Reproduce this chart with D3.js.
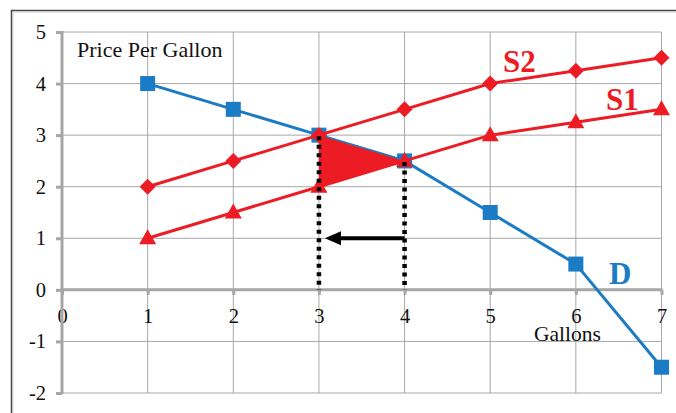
<!DOCTYPE html>
<html><head><meta charset="utf-8">
<script src="https://cdn.jsdelivr.net/npm/d3@7"></script>
<style>body{margin:0;background:#fff}svg{display:block}</style>
</head><body>
<svg id="c" width="676" height="413"></svg>
<script>
const gallons = [1,2,3,4,5,6,7];
const demand = [4,3.5,3,2.5,1.5,0.5,-1.5];
const supply2 = [2,2.5,3,3.5,4,4.25,4.5];
const supply1 = [1,1.5,2,2.5,3,3.25,3.5];
const xTicks = [0,1,2,3,4,5,6,7];
const yTicks = [-2,-1,0,1,2,3,4,5];
const surplusTri = [[3,3],[3,2],[4,2.5]];
const dottedX = [[3,3],[4,2.5]];
const arrowFromTo = [[4,1],[3,1]];

const RED = "#ed1c24", BLUE = "#1b7bc4", GRID = "#a8a8a8", AXIS = "#a6a6a6";
const svg = d3.select("#c");
const x = d3.scaleLinear().domain([0,7]).range([62,661.5]);
const y = d3.scaleLinear().domain([-2,5]).range([393,32]);
const serif = "'Liberation Serif','Times New Roman',serif";
const fmt = d => String(d);

// frame
svg.append("path").attr("d","M11.5,413 V10.5 H676").attr("fill","none").attr("stroke","#444").attr("stroke-width",1.5);
svg.append("path").attr("d","M13,413 V12 H676").attr("fill","none").attr("stroke","#ccc").attr("stroke-width",1);

// gridlines
const g = svg.append("g");
g.selectAll(".vg").data(xTicks.filter(d=>d>0)).join("line")
  .attr("x1",d=>x(d)).attr("x2",d=>x(d)).attr("y1",y(5)).attr("y2",y(-2))
  .attr("stroke",GRID).attr("stroke-width",1);
g.selectAll(".hg").data(yTicks.filter(d=>d!==0)).join("line")
  .attr("x1",x(0)).attr("x2",x(7)).attr("y1",d=>y(d)).attr("y2",d=>y(d))
  .attr("stroke",GRID).attr("stroke-width",1);

// axes
const ya = svg.append("g").attr("transform",`translate(${x(0)},0)`)
  .call(d3.axisLeft(y).tickValues(yTicks).tickSize(6).tickPadding(14).tickFormat(fmt));
const xa = svg.append("g").attr("transform",`translate(0,${y(0)})`)
  .call(d3.axisBottom(x).tickValues(xTicks).tickSize(5).tickPadding(10).tickFormat(fmt));
[ya,xa].forEach(a=>{
  a.select(".domain").remove();
  a.selectAll(".tick line").attr("stroke",AXIS).attr("stroke-width",3);
  a.selectAll("text").attr("font-family",serif).attr("font-size",20.5).attr("fill","#111");
});
ya.selectAll("text").attr("x",-16);
xa.selectAll("text").attr("y",26).attr("dy","0.35em");
svg.append("line").attr("x1",x(0)).attr("x2",x(0)).attr("y1",y(5)-1).attr("y2",y(-2)+1).attr("stroke",AXIS).attr("stroke-width",3);
svg.append("line").attr("x1",x(0)).attr("x2",x(7)+1).attr("y1",y(0)).attr("y2",y(0)).attr("stroke",AXIS).attr("stroke-width",3);

// series
const line = d3.line().x(d=>x(d[0])).y(d=>y(d[1]));
const shapes = {
  square: "M-7.5,-7.5H7.5V7.5H-7.5Z",
  diamond: "M0,-8L8,0L0,8L-8,0Z",
  triangle: "M0,-9L8.5,6L-8.5,6Z"
};
function series(vals, color, shape){
  const pts = gallons.map((g,i)=>[g,vals[i]]);
  svg.append("path").attr("d",line(pts)).attr("fill","none").attr("stroke",color).attr("stroke-width",3);
  svg.append("g").selectAll("path").data(pts).join("path")
    .attr("d",shapes[shape])
    .attr("transform",d=>`translate(${x(d[0])},${y(d[1])})`)
    .attr("fill",color);
}
series(demand, BLUE, "square");
series(supply2, RED, "diamond");
series(supply1, RED, "triangle");

// shaded triangle
svg.append("path").attr("d",line(surplusTri)+"Z").attr("fill",RED);

// dotted verticals
svg.selectAll(".dot").data(dottedX).join("line")
  .attr("x1",d=>x(d[0])).attr("x2",d=>x(d[0])).attr("y1",d=>y(d[1])+1).attr("y2",y(0))
  .attr("stroke","#000").attr("stroke-width",4.5).attr("stroke-dasharray","4,4.5");

// arrow
const ax0 = x(arrowFromTo[0][0]), ax1 = x(arrowFromTo[1][0])+6, ay = y(arrowFromTo[0][1]);
svg.append("line").attr("x1",ax0).attr("x2",ax1+12).attr("y1",ay).attr("y2",ay).attr("stroke","#000").attr("stroke-width",4);
svg.append("path").attr("d",`M${ax1},${ay} L${ax1+16},${ay-7} L${ax1+16},${ay+7} Z`).attr("fill","#000");

// labels
svg.append("text").attr("x",77).attr("y",57).attr("font-family",serif).attr("font-size",22).attr("fill","#111").text("Price Per Gallon");
svg.append("text").attr("x",534).attr("y",341).attr("font-family",serif).attr("font-size",21.5).attr("fill","#111").text("Gallons");
svg.append("text").attr("x",503).attr("y",72).attr("font-family",serif).attr("font-weight","bold").attr("font-size",31).attr("fill",RED).text("S2");
svg.append("text").attr("x",606).attr("y",110).attr("font-family",serif).attr("font-weight","bold").attr("font-size",31).attr("fill",RED).text("S1");
svg.append("text").attr("x",609).attr("y",284).attr("font-family",serif).attr("font-weight","bold").attr("font-size",31).attr("fill",BLUE).text("D");
</script>
</body></html>
